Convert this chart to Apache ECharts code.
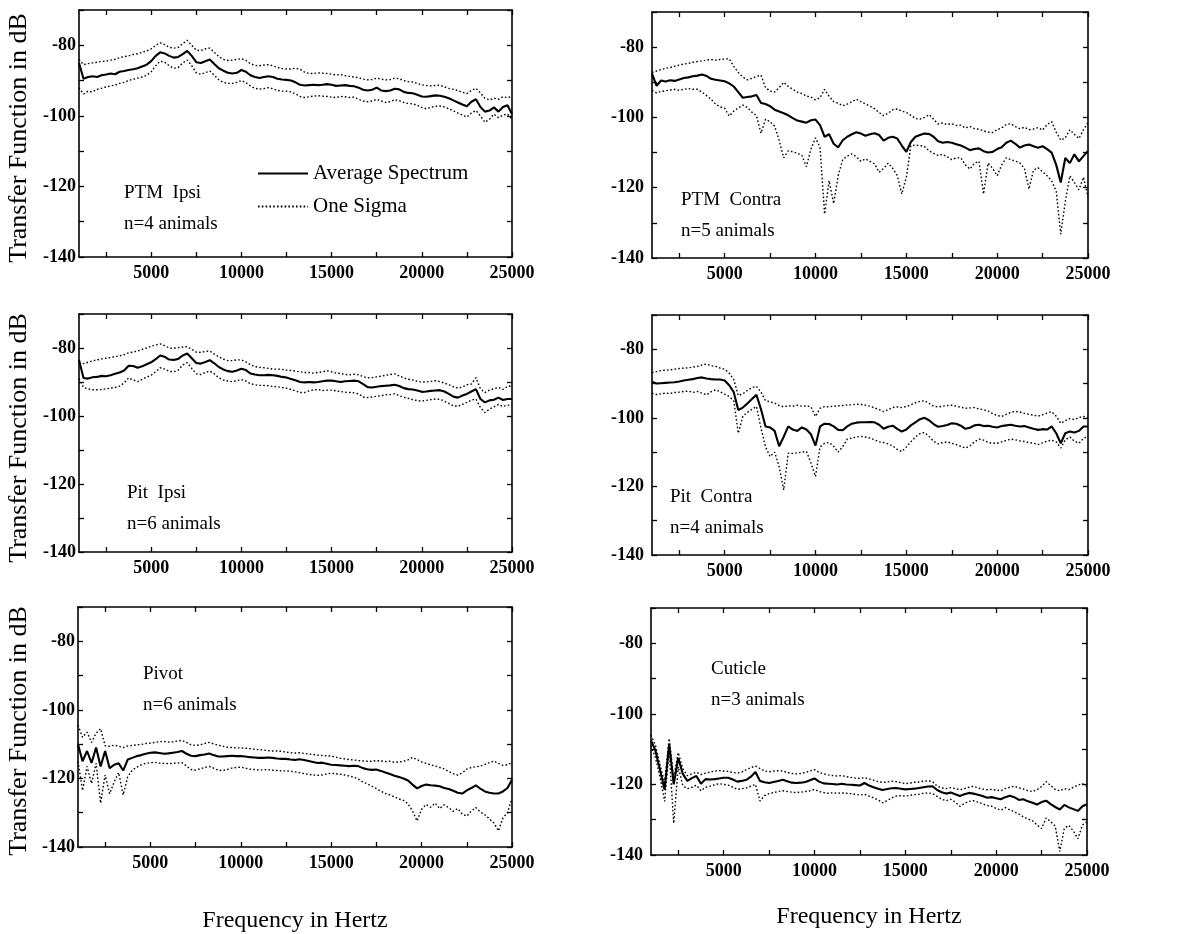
<!DOCTYPE html>
<html><head><meta charset="utf-8">
<script src="https://cdn.jsdelivr.net/npm/echarts@6/dist/echarts.min.js"></script>
<style>html,body{margin:0;padding:0;background:#fff}#chart{width:1186px;height:934px}</style>
</head><body><div id="chart"></div>
<script>
// Frequency grid (Hz)
const freqHz = [
 1000,1250,1500,1750,2000,2250,2500,2750, 3000,3250,3500,3750,4000,4250,4500,4750,
 5000,5250,5500,5750,6000,6250,6500,6750, 7000,7250,7500,7750,8000,8250,8500,8750,
 9000,9250,9500,9750,10000,10250,10500,10750, 11000,11250,11500,11750,12000,12250,12500,12750,
 13000,13250,13500,13750,14000,14250,14500,14750, 15000,15250,15500,15750,16000,16250,16500,16750,
 17000,17250,17500,17750,18000,18250,18500,18750, 19000,19250,19500,19750,20000,20250,20500,20750,
 21000,21250,21500,21750,22000,22250,22500,22750, 23000,23250,23500,23750,24000,24250,24500,24750,
 25000];

// PTM Ipsi
const ptmIpsiAvg = [
 -85,-89.5,-89,-88.8,-89,-88.5,-88.3,-88, -88.2,-87.5,-87.3,-87,-86.8,-86.5,-86,-85.5,
 -84.5,-83,-82,-82.3,-83,-83.5,-83.3,-82.5, -81.6,-83,-84.8,-85,-84.5,-84,-85.3,-86.5,
 -87.2,-87.8,-88,-87.8,-87,-87.5,-88.5,-89, -89.3,-89,-88.8,-89,-89.5,-89.7,-89.8,-90,
 -90.5,-91.2,-91.4,-91.3,-91.2,-91.3,-91.2,-91, -91.2,-91.5,-91.4,-91.3,-91.5,-91.6,-92,-92.6,
 -92.8,-92.6,-92,-92.8,-93,-92.8,-92.3,-92.5, -93.2,-93.5,-93.6,-94,-94.5,-94.6,-94.4,-94.2,
 -94.3,-94.6,-95,-95.6,-96.2,-96.8,-97.3,-96, -95.3,-97.5,-98.8,-98.5,-97.6,-98.8,-97.5,-97,
 -99.5];
const ptmIpsiHi = [
 -84,-85.5,-85.2,-85,-84.8,-84.6,-84.5,-84.2, -84,-83.5,-83.2,-83,-82.6,-82.4,-82,-81.6,
 -81,-80,-79.3,-79.8,-80.6,-80.8,-80.6,-79.5, -78.6,-80,-81.4,-81.5,-81,-80.8,-82,-83.2,
 -84,-84.3,-84.2,-84,-83.8,-84.3,-85.2,-85.7, -85.8,-85.6,-85.5,-85.8,-86.3,-86.6,-86.7,-86.7,
 -86.5,-86.8,-87.6,-88,-88,-87.8,-87.9,-88, -88.2,-88.4,-88.3,-88.6,-88.8,-89,-89.2,-89.6,
 -89.8,-89.7,-89.3,-89.6,-89.8,-89.7,-89.3,-89.5, -90,-90.3,-90.4,-90.8,-91.2,-91.4,-91.5,-91.4,
 -91.3,-91.8,-92.2,-92.5,-92.8,-93.3,-93.7,-92.8, -92.2,-93.5,-95,-95.5,-95,-95.3,-94.6,-94.8,
 -94.5];
const ptmIpsiLo = [
 -92,-93.8,-93,-93.2,-92.5,-92.2,-91.8,-91.5, -91.3,-90.8,-90.5,-90,-89.6,-89.3,-89,-88.5,
 -87.5,-85.8,-84.5,-84.8,-85.8,-86.5,-86.3,-85, -84.2,-85.8,-87.8,-88.2,-87.8,-87.3,-88.5,-89.8,
 -90.5,-90.8,-90.8,-90.5,-90,-90.6,-91.5,-92.2, -92.4,-92.3,-92,-92.3,-92.8,-93,-93,-93.2,
 -93.8,-94.5,-94.8,-94.6,-94.4,-94.3,-94.4,-94.5, -94.7,-94.8,-94.5,-94.6,-94.8,-94.7,-95.3,-95.8,
 -96,-95.8,-95.3,-95.8,-96.2,-96,-95.4,-95.7, -96.2,-96.5,-96.6,-97,-97.6,-98,-97.6,-97.3,
 -97.2,-97.5,-98,-98.6,-99.2,-99.8,-100.3,-99.2, -98.5,-100,-101.8,-101,-99.5,-100.5,-99.8,-99.5,
 -101];

// PTM Contra
const ptmContraAvg = [
 -87.5,-91,-89.5,-89.8,-89.4,-89.6,-89.2,-88.8, -88.6,-88.3,-88.1,-87.8,-88.2,-89,-89.3,-89.5,
 -89.7,-90.3,-91.2,-92.8,-94.4,-94.2,-94,-93.6, -95.9,-96.2,-96.8,-97.8,-98.3,-98.8,-99.4,-100.2,
 -100.9,-101.2,-101.5,-100.8,-100.6,-102.2,-105.5,-104.8, -107.5,-108.5,-106.5,-105.5,-104.8,-104.2,-104.6,-105.2,
 -104.8,-104.5,-105,-106.6,-105.8,-105.5,-106,-108, -109.8,-107,-105.5,-105,-104.6,-104.7,-105.5,-106.8,
 -107.2,-107,-107.2,-107.6,-108,-108.6,-109.3,-109, -108.8,-109.6,-110,-109.8,-109,-108.5,-107.2,-106.6,
 -107.5,-108.6,-108,-107.7,-108.2,-108.6,-108.2,-109, -110,-113.5,-118.5,-111.5,-113,-110.5,-112.5,-111,
 -109.5];
const ptmContraHi = [
 -87.2,-86.8,-86.4,-86,-85.8,-85.4,-85.1,-84.8, -84.6,-84.3,-84.1,-83.9,-83.7,-83.5,-83.7,-83.5,
 -83.4,-83.3,-85.5,-87.2,-88.5,-89.3,-88.9,-88.3, -88,-91.5,-92.5,-92.8,-91.5,-90,-91.2,-92,
 -92.8,-93.2,-93.9,-94.2,-95,-94.4,-92,-94, -95.5,-96,-96.7,-96.2,-95.5,-94.8,-95.5,-96.2,
 -96.8,-97.5,-98.6,-99.5,-98.8,-97.8,-97.6,-98.2, -98.6,-99.4,-100.3,-100.5,-100,-99.2,-100.5,-101.9,
 -101.6,-102,-101.8,-102.3,-102.2,-103,-102.6,-103.2, -103.4,-103.8,-104.2,-104.3,-103.5,-103,-102,-101.8,
 -102.6,-103.2,-102.8,-103.5,-103.3,-102.9,-103.6,-102, -101.2,-104.2,-106.5,-105.8,-103.5,-104.8,-106,-103.5,
 -101.5];
const ptmContraLo = [
 -92.3,-93,-92.6,-92.4,-92.2,-92,-92.3,-92, -91.8,-92,-92,-92.8,-93.8,-94.8,-96.2,-97,
 -97.4,-99.6,-98.2,-97.3,-96.5,-97.2,-98.5,-99.5, -104.5,-100.5,-101.2,-102.5,-106.5,-111.5,-109.5,-109.8,
 -110.2,-110.8,-114,-109,-105.8,-108.5,-127.5,-118, -124.5,-116.5,-112,-111,-110.4,-111.2,-112.5,-111.8,
 -112.5,-113.2,-115.6,-114.5,-113,-114.5,-116.5,-121.8, -117,-108,-107.9,-108,-108.3,-109.5,-110.2,-110.8,
 -110.5,-111.2,-112,-111.5,-111.5,-113.5,-114.7,-113, -112.5,-121.8,-113,-114.5,-116.6,-113.5,-111.5,-112,
 -112.4,-113,-114.5,-120.4,-115,-114.3,-115.5,-116.6, -118,-121,-133.2,-124,-116.6,-118.5,-120.6,-117,
 -122.7];

// Pit Ipsi
const pitIpsiAvg = [
 -83.5,-88.8,-89,-88.6,-88.5,-88.2,-88.3,-88, -87.6,-87.2,-86.6,-85.2,-85.3,-85.8,-85.4,-84.8,
 -84.2,-83.3,-82.2,-82.6,-83.4,-83.5,-83.2,-82.2, -81.6,-83,-84.4,-84.6,-84.1,-83.6,-84.5,-85.6,
 -86.3,-86.8,-87,-86.6,-86.1,-86.5,-87.5,-87.8, -88,-88,-87.9,-88,-88.2,-88.5,-88.7,-89.1,
 -89.5,-90,-90.1,-90,-90.1,-90,-89.8,-89.6, -89.6,-89.8,-90,-89.8,-89.7,-89.6,-89.8,-90.6,
 -91.5,-91.6,-91.4,-91.2,-91.1,-91,-90.8,-91.2, -91.8,-92.1,-92.2,-92.5,-92.9,-92.8,-92.6,-92.5,
 -92.4,-92.8,-93.5,-94.3,-94.6,-94,-93.5,-92.8, -92.1,-95,-96,-95.4,-95.2,-94.6,-95.3,-95,
 -95];
const pitIpsiHi = [
 -84.5,-84.6,-84.2,-83.8,-83.5,-83.2,-83,-82.8, -82.5,-82.3,-82,-81.4,-81.2,-80.9,-80.4,-80,
 -79.5,-79.1,-78.8,-79.3,-80,-80.1,-79.9,-79.7, -79.6,-80.4,-81.2,-81.3,-81,-80.9,-81.8,-82.6,
 -83.3,-83.7,-83.7,-83.5,-83.5,-84.1,-84.9,-85.5, -85.7,-85.8,-86,-86.2,-86.2,-86.3,-86.5,-86.6,
 -86.8,-87,-87.2,-87.2,-87.4,-87.2,-87,-86.7, -87,-87.4,-87.5,-87.8,-87.9,-87.7,-87.9,-88.4,
 -88.8,-88.7,-88.5,-88.3,-88,-87.8,-87.6,-88.2, -88.8,-89.2,-89.4,-89.8,-90,-90,-89.8,-89.6,
 -89.9,-90.3,-90.8,-91.4,-91.8,-91.5,-90.8,-90.6, -88.7,-92,-93.1,-92.4,-92,-91.6,-92.2,-91.3,
 -91.1];
const pitIpsiLo = [
 -89,-91.6,-92,-92.3,-92.3,-92.2,-92,-91.8, -91.6,-91.2,-90.3,-88.8,-89.4,-89.9,-89.2,-88.6,
 -88,-87,-85.8,-86.2,-86.9,-87,-86.5,-85, -84.3,-86,-87.6,-87.8,-87.2,-86.8,-87.6,-88.8,
 -89.4,-89.7,-89.9,-89.6,-89.3,-89.7,-90.5,-90.8, -91,-91,-91.1,-91.3,-91.4,-91.6,-91.8,-92.2,
 -92.6,-93.1,-93.1,-92.6,-92.3,-92.2,-92.5,-92.4, -92.4,-92.6,-92.8,-93,-93.1,-93.2,-93.5,-94.4,
 -94.6,-94.4,-94.2,-94,-93.8,-93.7,-93.5,-94, -94.5,-94.8,-95.2,-95.5,-95.6,-95.4,-95.2,-95,
 -95.1,-95.6,-96.3,-97,-97.2,-96.6,-96,-95.3, -95,-97.5,-99,-98,-97.3,-96.6,-97.2,-96.8,
 -96.8];

// Pit Contra
const pitContraAvg = [
 -89.5,-90,-89.9,-89.8,-89.7,-89.6,-89.4,-89.1, -88.9,-88.7,-88.4,-88.2,-88.5,-88.7,-88.8,-88.8,
 -89.1,-90.5,-92.5,-97.7,-97,-95.8,-94.5,-93.3, -97.5,-102.5,-102.8,-103.8,-108.3,-105.5,-102.5,-103.4,
 -103.8,-102.8,-103.4,-104.8,-108.1,-102.5,-101.7,-101.8, -102.5,-103.5,-103.6,-102.5,-101.7,-101.4,-101.3,-101.3,
 -101.2,-101.3,-102,-103.2,-102.6,-102.3,-103.2,-104, -103.4,-102.2,-101.3,-100.4,-100,-100.7,-101.8,-102.6,
 -102.4,-102.1,-101.6,-101.7,-102.3,-103.2,-102.9,-102.2, -102,-102.4,-102.3,-102.6,-102.8,-102.4,-102.2,-102,
 -102.3,-102.5,-102.4,-102.8,-103.2,-103.5,-103.3,-103.4, -102.5,-104.5,-107.4,-104.5,-104,-104.3,-103.8,-102.5,
 -102.5];
const pitContraHi = [
 -86.8,-86.5,-86.2,-86.1,-86,-85.8,-85.6,-85.5, -85.4,-85.2,-85,-84.6,-84.3,-84.8,-85,-85.5,
 -85.8,-87,-88.8,-93.5,-93,-92,-91.2,-90.8, -92.5,-95,-95.3,-95.7,-96.4,-96.8,-96.5,-96.6,
 -96.3,-96.6,-96.5,-96.8,-99.6,-97.2,-96.7,-96.8, -96.6,-96.5,-96.4,-96.2,-96.2,-96,-96.1,-96.3,
 -96.6,-97.1,-97.6,-98.2,-97.6,-97,-96.8,-97, -96.7,-96.2,-95.6,-95.2,-95,-95.8,-96.6,-96.8,
 -96.6,-96.4,-96.3,-96.6,-96.9,-97.2,-97.1,-97, -97.4,-97.6,-98,-98.8,-99.3,-99.6,-99,-98.4,
 -98.1,-98.3,-98.7,-99,-99.2,-99.5,-99.1,-98.6, -98.2,-99.5,-101.6,-100.8,-100.2,-100.5,-99.9,-99.6,
 -100];
const pitContraLo = [
 -92.8,-93.2,-93,-92.8,-92.9,-92.6,-92.5,-92.3, -92.2,-92.6,-92.3,-92.8,-93.3,-92.4,-91.8,-92.4,
 -93.1,-93.8,-95,-104.5,-99.5,-98.4,-97.5,-96.7, -103,-108.5,-111.3,-110,-114.2,-121,-110.3,-110.4,
 -110.2,-110,-109.8,-113.2,-117.1,-108.5,-107.4,-107.2, -108.3,-110,-108.4,-106.2,-105.9,-105.6,-105.4,-105.6,
 -105.9,-106.4,-107,-107.2,-107.6,-108.2,-109.2,-109.8, -108.5,-107,-105.6,-104.6,-104.3,-105.4,-106.8,-107.6,
 -107.2,-107,-107.4,-107.8,-108.3,-108.8,-108.2,-107, -106.2,-106.5,-107.2,-107.4,-107.4,-107,-106.6,-106.2,
 -106.4,-106.7,-106.9,-107.2,-107.4,-107.8,-107.3,-106.8, -106.5,-107,-108.8,-106.4,-105.6,-106.8,-107.4,-106,
 -105.4];

// Pivot
const pivotAvg = [
 -110,-115,-112,-115.5,-111,-116.5,-112,-117, -116,-115.6,-117.7,-114.5,-114,-113.5,-113.2,-112.8,
 -112.5,-112.4,-112.6,-112.8,-112.7,-112.5,-112.3,-112, -112.8,-113.4,-113.5,-113.2,-113,-112.7,-113.2,-113.6,
 -113.6,-113.5,-113.4,-113.5,-113.5,-113.6,-113.8,-113.9, -114,-114,-113.9,-114,-114.2,-114.3,-114.3,-114.5,
 -114.6,-114.4,-114.6,-114.9,-115.2,-115.5,-115.4,-115.7, -116,-116.1,-116.2,-116.3,-116.4,-116.3,-116.4,-117,
 -117.3,-117.5,-117.4,-117.8,-118.3,-118.7,-119.2,-119.6, -120,-120.6,-121.8,-122.9,-122.2,-121.8,-122,-122.1,
 -122.3,-122.8,-123.1,-123.6,-124.2,-124.4,-123.5,-122.8, -122,-123,-123.8,-124.2,-124.4,-124.4,-123.8,-122.8,
 -120.4];
const pivotHi = [
 -104.5,-108,-106.5,-109.5,-106.8,-105.5,-110.5,-110.6, -110.3,-110.6,-111,-110.5,-110.4,-110.2,-110.1,-109.8,
 -109.7,-109.5,-109.3,-109.2,-109.4,-109.3,-109.1,-108.9, -109.5,-110.2,-110.4,-110.2,-109.8,-109.5,-109.9,-110.3,
 -110.6,-110.9,-111,-111.1,-111.1,-111.2,-111.3,-111.5, -111.6,-111.7,-111.9,-112,-112,-112.1,-112.3,-112.5,
 -112.6,-112.5,-112.7,-112.9,-113,-113.2,-113.3,-113.4, -113.5,-113.8,-114.1,-114.3,-114.5,-114.6,-114.8,-114.9,
 -115,-115,-114.8,-114.9,-115.1,-115,-115.3,-115.2, -115,-114.6,-113.9,-114.5,-115.2,-115.6,-116,-116.4,
 -116.8,-117.2,-118,-118.6,-119,-118.4,-117.3,-116.8, -116.6,-116.4,-115.9,-115.4,-114.9,-115.6,-116.2,-116,
 -115.4];
const pivotLo = [
 -115,-123.5,-116.5,-121.5,-115.6,-127.2,-119,-124.5, -121,-118.3,-124.8,-119.5,-117.6,-116.7,-116,-115.6,
 -115.4,-115.3,-115.5,-115.6,-115.7,-115.6,-115.5,-115.4, -116.4,-117.4,-117.6,-117.2,-116.8,-116.5,-117,-117.6,
 -117.7,-117.4,-117,-116.8,-116.7,-117,-117.3,-117.4, -117.5,-117.5,-117.4,-117.6,-117.7,-117.8,-117.8,-117.9,
 -118.1,-118.3,-118.6,-118.8,-119,-119.1,-119,-118.7, -118.5,-118.6,-118.8,-119,-119.3,-119.6,-120.2,-121,
 -121.6,-122.3,-123,-123.7,-124.4,-124.8,-125.4,-126, -126.4,-127.4,-129.5,-132.4,-129,-127.6,-128.4,-127.2,
 -128.8,-127.7,-128.5,-129.6,-128.8,-130.4,-131,-129.5, -128.5,-129.8,-130.6,-131.8,-133,-135.3,-131.5,-130,
 -125.8];

// Cuticle
const cuticleAvg = [
 -107.5,-110.5,-116,-121.5,-108.5,-120,-112.5,-117, -119,-118.2,-117.6,-119.8,-118.5,-118.6,-118.5,-118.3,
 -118.1,-118.1,-118.6,-119.2,-119,-118.7,-117.8,-116.5, -119,-119.4,-119.6,-119.3,-119,-118.7,-119.1,-119.5,
 -119.6,-119.5,-119.3,-118.8,-118.3,-119.2,-119.7,-119.8, -119.9,-120,-119.8,-120,-120.1,-120.2,-120.3,-119.6,
 -120.3,-120.8,-121.2,-121.6,-121.3,-121.1,-121,-121.2, -121.4,-121.3,-121.2,-121,-120.8,-120.6,-120.5,-121.6,
 -122.2,-122.6,-122.3,-122.8,-123.3,-122.8,-122.4,-122.6, -122.9,-123.3,-123.8,-123.6,-123.9,-124.2,-123.6,-123.2,
 -123.6,-124.4,-124.2,-124.8,-125.2,-125.7,-125,-124.6, -125.6,-126.4,-127.1,-125.8,-126.5,-127,-127.5,-126.2,
 -125.6];
const cuticleHi = [
 -106,-109,-114.5,-119.5,-107,-118,-111,-115.5, -117.5,-117,-116.5,-117.2,-116.8,-116.5,-116.2,-116.1,
 -116.2,-116.3,-116.6,-116.8,-116.5,-115.8,-115.2,-114.8, -115.5,-116.2,-116.4,-116.2,-116.1,-116.2,-116.6,-116.9,
 -117,-116.9,-116.6,-116.2,-115.8,-116.6,-117,-117.3, -117.5,-117.6,-117.5,-117.8,-118,-118.2,-118.3,-118.1,
 -118.4,-118.8,-119.2,-119.4,-119.3,-119.1,-119.2,-119.5, -119.8,-119.6,-119.4,-119.3,-119.1,-119,-119.2,-120.5,
 -121,-121.2,-120.9,-121.2,-121.5,-121.2,-120.8,-120.5, -121,-121.3,-121.5,-121.4,-121.6,-121.8,-121.2,-120.8,
 -120.5,-121,-121.3,-121.8,-122,-121.5,-120.6,-119.2, -120.3,-121.4,-121.8,-121.2,-121.5,-120.8,-120.2,-119.8,
 -120.6];
const cuticleLo = [
 -109,-112.5,-118,-124.8,-110.5,-131,-115,-120.3, -121.2,-120.8,-120.2,-121.8,-120.8,-120.5,-120.1,-119.8,
 -120,-120.2,-120.8,-121.4,-121.2,-121,-120.5,-120, -124.7,-123.2,-122.6,-122.3,-122,-121.8,-122,-122.2,
 -122.3,-122.2,-122,-121.8,-121.4,-122,-122.3,-122.5, -122.4,-122.5,-122.4,-122.5,-122.6,-122.8,-123,-122.8,
 -123.3,-123.8,-124.4,-125.2,-124.6,-123.8,-123.3,-123.2, -123.3,-123.1,-122.9,-122.8,-122.5,-122.4,-122.6,-123.4,
 -124.2,-124.6,-124.2,-125,-126.2,-125.4,-124.8,-124.6, -125,-125.5,-126,-126.2,-126.8,-127.3,-126.6,-127.2,
 -127.8,-128.4,-129.2,-129.8,-130.3,-131.5,-132.5,-129.5, -130.5,-131.8,-139,-132.5,-131.6,-133.2,-135.4,-131.5,
 -130.6];

// Axis ticks and labels
const xTickLabels = [5000, 10000, 15000, 20000, 25000];
const xTickMarks = [2500, 5000, 7500, 10000, 12500, 15000, 17500, 20000, 22500, 25000];
const yTickLabels = [-80, -100, -120, -140];
const yTickMarks = [-140, -130, -120, -110, -100, -90, -80, -70];

const panelNames = ['PTM  Ipsi', 'PTM  Contra', 'Pit  Ipsi', 'Pit  Contra', 'Pivot', 'Cuticle'];
const panelCounts = ['n=4 animals', 'n=5 animals', 'n=6 animals', 'n=4 animals', 'n=6 animals', 'n=3 animals'];
const seriesNames = ['Average Spectrum', 'One Sigma'];
const yTitle = 'Transfer Function in dB';
const xTitle = 'Frequency in Hertz';

const panelData = [
  [ptmIpsiAvg, ptmIpsiHi, ptmIpsiLo],
  [ptmContraAvg, ptmContraHi, ptmContraLo],
  [pitIpsiAvg, pitIpsiHi, pitIpsiLo],
  [pitContraAvg, pitContraHi, pitContraLo],
  [pivotAvg, pivotHi, pivotLo],
  [cuticleAvg, cuticleHi, cuticleLo]
];

// Layout (pixels)
const grids = [
  {left: 79, top: 10, width: 433, height: 247},
  {left: 652, top: 12, width: 436, height: 246},
  {left: 79, top: 314, width: 433, height: 238},
  {left: 652, top: 315, width: 436, height: 240},
  {left: 78, top: 607, width: 434, height: 245},
  {left: 651, top: 608, width: 436, height: 247}
];
const labelPos = [
  [124, 178], [681, 185], [127, 478], [670, 482], [143, 659], [711, 654]
];
const yTitleCenters = [[19, 138], [19, 438], [19, 731]];

const FONT = '"Liberation Serif", "Times New Roman", Times, serif';
const BLACK = '#000';

const xAxes = [], yAxes = [], series = [], graphics = [];
grids.forEach((g, i) => {
  const isLeft = (i % 2 === 0);
  const isBottom = (i >= 4);
  const axLine = {show: true, lineStyle: {color: BLACK, width: 1.6}};
  const tickStyle = {color: BLACK, width: 1.3};
  const labelStyle = {color: BLACK, fontFamily: FONT, fontSize: 18, fontWeight: 'bold'};
  xAxes.push({
    gridIndex: i, type: 'value', min: 1000, max: 25000, position: 'bottom',
    axisLine: axLine,
    axisTick: {show: true, inside: true, length: 5, customValues: xTickMarks, lineStyle: tickStyle},
    axisLabel: Object.assign({customValues: xTickLabels, margin: 7, formatter: v => String(v)}, labelStyle),
    splitLine: {show: false},
    name: isBottom ? xTitle : '', nameLocation: 'middle', nameGap: isLeft ? 62 : 50,
    nameTextStyle: {color: BLACK, fontFamily: FONT, fontSize: 24}
  });
  xAxes.push({
    gridIndex: i, type: 'value', min: 1000, max: 25000, position: 'top',
    axisLine: axLine,
    axisTick: {show: true, inside: true, length: 5, customValues: xTickMarks, lineStyle: tickStyle},
    axisLabel: {show: false}, splitLine: {show: false}
  });
  yAxes.push({
    gridIndex: i, type: 'value', min: -140, max: -70, position: 'left',
    axisLine: axLine,
    axisTick: {show: true, inside: true, length: 5, customValues: yTickMarks, lineStyle: tickStyle},
    axisLabel: Object.assign({customValues: yTickLabels, margin: isLeft ? 3 : 8, formatter: v => String(v)}, labelStyle),
    splitLine: {show: false}
  });
  yAxes.push({
    gridIndex: i, type: 'value', min: -140, max: -70, position: 'right',
    axisLine: axLine,
    axisTick: {show: true, inside: true, length: 5, customValues: yTickMarks, lineStyle: tickStyle},
    axisLabel: {show: false}, splitLine: {show: false}
  });
  const [avg, hi, lo] = panelData[i];
  const pair = arr => freqHz.map((f, k) => [f, arr[k]]);
  [hi, lo].forEach(arr => series.push({
    name: seriesNames[1], type: 'line', xAxisIndex: 2 * i, yAxisIndex: 2 * i,
    data: pair(arr), symbol: 'none', showSymbol: false, silent: true,
    lineStyle: {color: BLACK, width: 1.4, type: [1.6, 2.2]}, itemStyle: {color: BLACK}, z: 2
  }));
  series.push({
    name: seriesNames[0], type: 'line', xAxisIndex: 2 * i, yAxisIndex: 2 * i,
    data: pair(avg), symbol: 'none', showSymbol: false, silent: true,
    lineStyle: {color: BLACK, width: 2.1}, itemStyle: {color: BLACK}, z: 3
  });
  graphics.push({
    type: 'text', left: labelPos[i][0], top: labelPos[i][1], silent: true,
    style: {text: panelNames[i] + '\n' + panelCounts[i], fill: BLACK, font: '19px ' + FONT, lineHeight: 31}
  });
});
yTitleCenters.forEach(c => graphics.push({
  type: 'text', x: c[0], y: c[1], rotation: Math.PI / 2, silent: true,
  style: {text: yTitle, fill: BLACK, font: '26px ' + FONT, textAlign: 'center', textVerticalAlign: 'middle'}
}));

const chart = echarts.init(document.getElementById('chart'), null, {renderer: 'canvas'});
chart.setOption({
  backgroundColor: '#fff',
  animation: false,
  grid: grids,
  xAxis: xAxes,
  yAxis: yAxes,
  series: series,
  legend: {
    data: seriesNames, orient: 'vertical', left: 252, top: 158,
    itemWidth: 50, itemHeight: 12, itemGap: 12, selectedMode: false,
    itemStyle: {opacity: 0},
    textStyle: {color: BLACK, fontFamily: FONT, fontSize: 21}
  },
  graphic: graphics
});
</script>
</body></html>
